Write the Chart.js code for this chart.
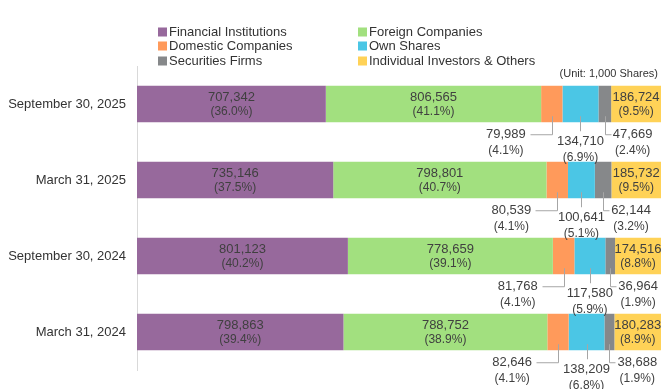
<!DOCTYPE html>
<html>
<head>
<meta charset="utf-8">
<script src="https://cdn.jsdelivr.net/npm/chart.js@4"></script>
<style>
html, body { margin: 0; padding: 0; background: #fff; }
#wrap { width: 668px; height: 389px; position: relative; }
</style>
</head>
<body>
<div id="wrap"><canvas id="chart"></canvas></div>
<script>
const dates = ['September 30, 2025', 'March 31, 2025', 'September 30, 2024', 'March 31, 2024'];
const seriesNames = ['Financial Institutions', 'Foreign Companies', 'Domestic Companies', 'Own Shares', 'Securities Firms', 'Individual Investors & Others'];
// shares, 1,000 units
const financial = [707342, 735146, 801123, 798863];
const foreign = [806565, 798801, 778659, 788752];
const domestic = [79989, 80539, 81768, 82646];
const ownShares = [134710, 100641, 117580, 138209];
const securities = [47669, 62144, 36964, 38688];
const individual = [186724, 185732, 174516, 180283];
const unitLabel = '(Unit: 1,000 Shares)';

const colors = ['#97699c', '#a2e07f', '#ff9a5b', '#4bc6e5', '#86888a', '#ffd257'];
const FONT = '"Liberation Sans", Arial, sans-serif';

const series = [financial, foreign, domestic, ownShares, securities, individual];
const totals = dates.map((d, j) => series.reduce((s, arr) => s + arr[j], 0));
const pct = (arr) => arr.map((v, j) => v / totals[j] * 100);

const fmt = (v) => v.toLocaleString('en-US');

const labelsPlugin = {
    id: 'shareLabels',
    afterDatasetsDraw(chart) {
        const ctx = chart.ctx;
        ctx.save();
        ctx.textBaseline = 'middle';
        ctx.fillStyle = '#404040';
        ctx.strokeStyle = '#a6a6a6';
        ctx.lineWidth = 1;
        chart.data.datasets.forEach((ds, k) => {
            const meta = chart.getDatasetMeta(k);
            meta.data.forEach((el, j) => {
                const val = fmt(ds._raw[j]);
                const p = '(' + ds.data[j].toFixed(1) + '%)';
                const cx = (el.x + el.base) / 2;
                const bottom = el.y + el.height / 2;
                if (k === 0 || k === 1 || k === 5) {
                    ctx.textAlign = 'center';
                    ctx.font = '13px ' + FONT;
                    ctx.fillText(val, cx, el.y - 7);
                    ctx.font = '12px ' + FONT;
                    ctx.fillText(p, cx, el.y + 8);
                    return;
                }
                const lx = Math.round(cx) + 0.5;
                ctx.beginPath();
                ctx.moveTo(lx, bottom - 6);
                ctx.font = '13px ' + FONT;
                const w = ctx.measureText(val).width;
                let tx, ty;
                if (k === 2) {
                    ctx.lineTo(lx, bottom + 12.5);
                    ctx.lineTo(lx - 22, bottom + 12.5);
                    tx = cx - 26 - w / 2;
                    ty = bottom + 12;
                } else if (k === 3) {
                    ctx.lineTo(lx, bottom + 9);
                    tx = cx;
                    ty = bottom + 19;
                } else {
                    ctx.lineTo(lx, bottom + 12.5);
                    ctx.lineTo(lx + 6, bottom + 12.5);
                    tx = cx + 8 + w / 2;
                    ty = bottom + 12;
                }
                ctx.stroke();
                ctx.textAlign = 'center';
                ctx.fillText(val, tx, ty);
                ctx.font = '12px ' + FONT;
                ctx.fillText(p, tx, ty + 16);
            });
        });
        ctx.restore();
    },
    afterDraw(chart) {
        const ctx = chart.ctx;
        ctx.save();
        ctx.textBaseline = 'middle';
        ctx.textAlign = 'left';
        ctx.font = '13px ' + FONT;
        const colX = [158, 358];
        const rowY = [32, 46, 61];
        seriesNames.forEach((name, i) => {
            const x = colX[i % 2];
            const y = rowY[Math.floor(i / 2)];
            ctx.fillStyle = colors[i];
            ctx.fillRect(x, y - 4.5, 9, 9);
            ctx.fillStyle = '#333';
            ctx.fillText(name, x + 11, y);
        });
        ctx.font = '11px ' + FONT;
        ctx.textAlign = 'right';
        ctx.fillText(unitLabel, 658, 74);
        ctx.restore();
    }
};

const datasets = series.map((arr, i) => ({
    label: seriesNames[i],
    data: pct(arr),
    _raw: arr,
    backgroundColor: colors[i],
    borderWidth: 0,
    categoryPercentage: 1,
    barPercentage: 0.48
}));

new Chart(document.getElementById('chart'), {
    type: 'bar',
    data: { labels: dates, datasets },
    options: {
        indexAxis: 'y',
        responsive: true,
        maintainAspectRatio: false,
        animation: false,
        layout: { padding: { top: 66, bottom: 19, right: 7, left: 0 } },
        plugins: {
            legend: { display: false },
            tooltip: { enabled: false }
        },
        scales: {
            x: { stacked: true, min: 0, max: 100, display: false },
            y: {
                stacked: true,
                grid: { display: false, drawTicks: false },
                border: { display: true, color: '#d9d9d9', width: 1 },
                ticks: { color: '#333', font: { family: FONT, size: 13 }, padding: 11 },
                afterFit(axis) { axis.width = 137; }
            }
        }
    },
    plugins: [labelsPlugin]
});
</script>
</body>
</html>
